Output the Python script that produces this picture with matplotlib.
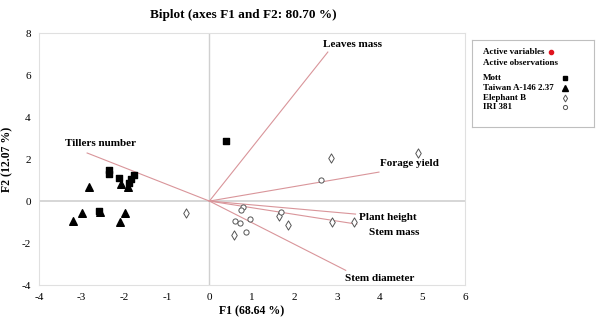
import matplotlib
matplotlib.use("Agg")
import matplotlib.pyplot as plt

plt.rcParams['font.family'] = ['Liberation Serif', 'DejaVu Serif']

# Variables (loadings scaled)
var_names = ["Leaves mass", "Tillers number", "Forage yield", "Plant height", "Stem mass", "Stem diameter"]
var_x = [2.78, -2.87, 3.98, 3.43, 3.46, 3.20]
var_y = [7.10, 2.29, 1.38, -0.62, -1.10, -3.30]
label_x = [3.36, -2.56, 4.70, 4.19, 4.33, 4.00]
label_y = [7.48, 2.76, 1.81, -0.76, -1.48, -3.71]

# Observations
mott_x = [-2.36, -2.36, -2.12, -1.88, -1.84, -1.76, -2.58, 0.40]
mott_y = [1.48, 1.29, 1.08, 0.87, 1.03, 1.24, -0.46, 2.86]
taiwan_x = [-2.82, -2.07, -1.90, -3.21, -2.99, -1.98, -2.11, -2.56]
taiwan_y = [0.65, 0.81, 0.68, -0.94, -0.56, -0.56, -1.00, -0.52]
eleph_x = [-0.54, 0.57, 1.63, 1.84, 2.87, 3.40, 2.86, 4.89]
eleph_y = [-0.57, -1.62, -0.70, -1.14, -0.98, -0.98, 2.03, 2.27]
iri_x = [0.78, 0.75, 0.61, 0.71, 0.96, 0.87, 1.67, 2.61]
iri_y = [-0.30, -0.43, -0.95, -1.06, -0.86, -1.49, -0.51, 1.00]

xticks = [-4, -3, -2, -1, 0, 1, 2, 3, 4, 5, 6]
yticks = [-4, -2, 0, 2, 4, 6, 8]

fig = plt.figure(figsize=(6, 3.25), dpi=100)
ax = fig.add_axes([0.065, 0.123, 0.71, 0.775])
ax.set_xlim(-4, 6)
ax.set_ylim(-4, 8)

for s in ax.spines.values():
    s.set_color('#e0e0e0')
    s.set_linewidth(0.8)
ax.axhline(0, color='#d0d0d0', lw=1.2, zorder=1)
ax.axvline(0, color='#d0d0d0', lw=1.0, zorder=1)

ax.set_xticks(xticks)
ax.set_yticks(yticks)
ax.set_xticklabels([str(t) for t in xticks])
ax.set_yticklabels([str(t) for t in yticks])
ax.tick_params(length=0, labelsize=8, pad=6)

for vx, vy, lx, ly, name in zip(var_x, var_y, label_x, label_y, var_names):
    ax.plot([0, vx], [0, vy], color='#d9959a', lw=0.8, zorder=2)
    ax.text(lx, ly, name, ha='center', va='center', fontsize=8, fontweight='bold', zorder=4)

ax.scatter(mott_x, mott_y, marker='s', s=14, color='black', zorder=3)
ax.scatter(taiwan_x, taiwan_y, marker='^', s=30, color='black', zorder=3)
ax.scatter(eleph_x, eleph_y, marker='d', s=22, facecolor='white', edgecolor='#555555', lw=0.7, zorder=3)
ax.scatter(iri_x, iri_y, marker='o', s=14, facecolor='white', edgecolor='#555555', lw=0.7, zorder=3)

ax.set_xlabel("F1 (68.64 %)", fontsize=8.5, fontweight='bold', labelpad=2)
ax.set_ylabel("F2 (12.07 %)", fontsize=8.5, fontweight='bold', labelpad=6)
fig.text(243 / 600, 1 - 15 / 325, "Biplot (axes F1 and F2: 80.70 %)", ha='center', va='center',
         fontsize=9.5, fontweight='bold')

# Legend box (pixel-based layout)
L, T, R, B = 472, 40, 594, 127
lax = fig.add_axes([L / 600, 1 - B / 325, (R - L) / 600, (B - T) / 325])
lax.set_xlim(0, R - L)
lax.set_ylim(B - T, 0)
lax.set_xticks([])
lax.set_yticks([])
for s in lax.spines.values():
    s.set_color('#bfbfbf')
    s.set_linewidth(0.8)
legend_rows = [("Active variables", 52), ("Active observations", 63),
               ("Mott", 78), ("Taiwan A-146 2.37", 88), ("Elephant B", 98), ("IRI 381", 107)]
for txt, yy in legend_rows:
    lax.text(11, yy - T, txt, fontsize=6.5, fontweight='bold', va='center', ha='left')
lax.plot([79], [52 - T], 'o', ms=3, color='#e0141e')
lax.plot([93], [78 - T], 's', ms=3, color='black')
lax.plot([93], [88 - T], '^', ms=4, color='black')
lax.plot([93], [98 - T], 'd', ms=3.5, mfc='white', mec='#555555', mew=0.7)
lax.plot([93], [107 - T], 'o', ms=3, mfc='white', mec='#555555', mew=0.7)

fig.savefig("out.png", dpi=100)
